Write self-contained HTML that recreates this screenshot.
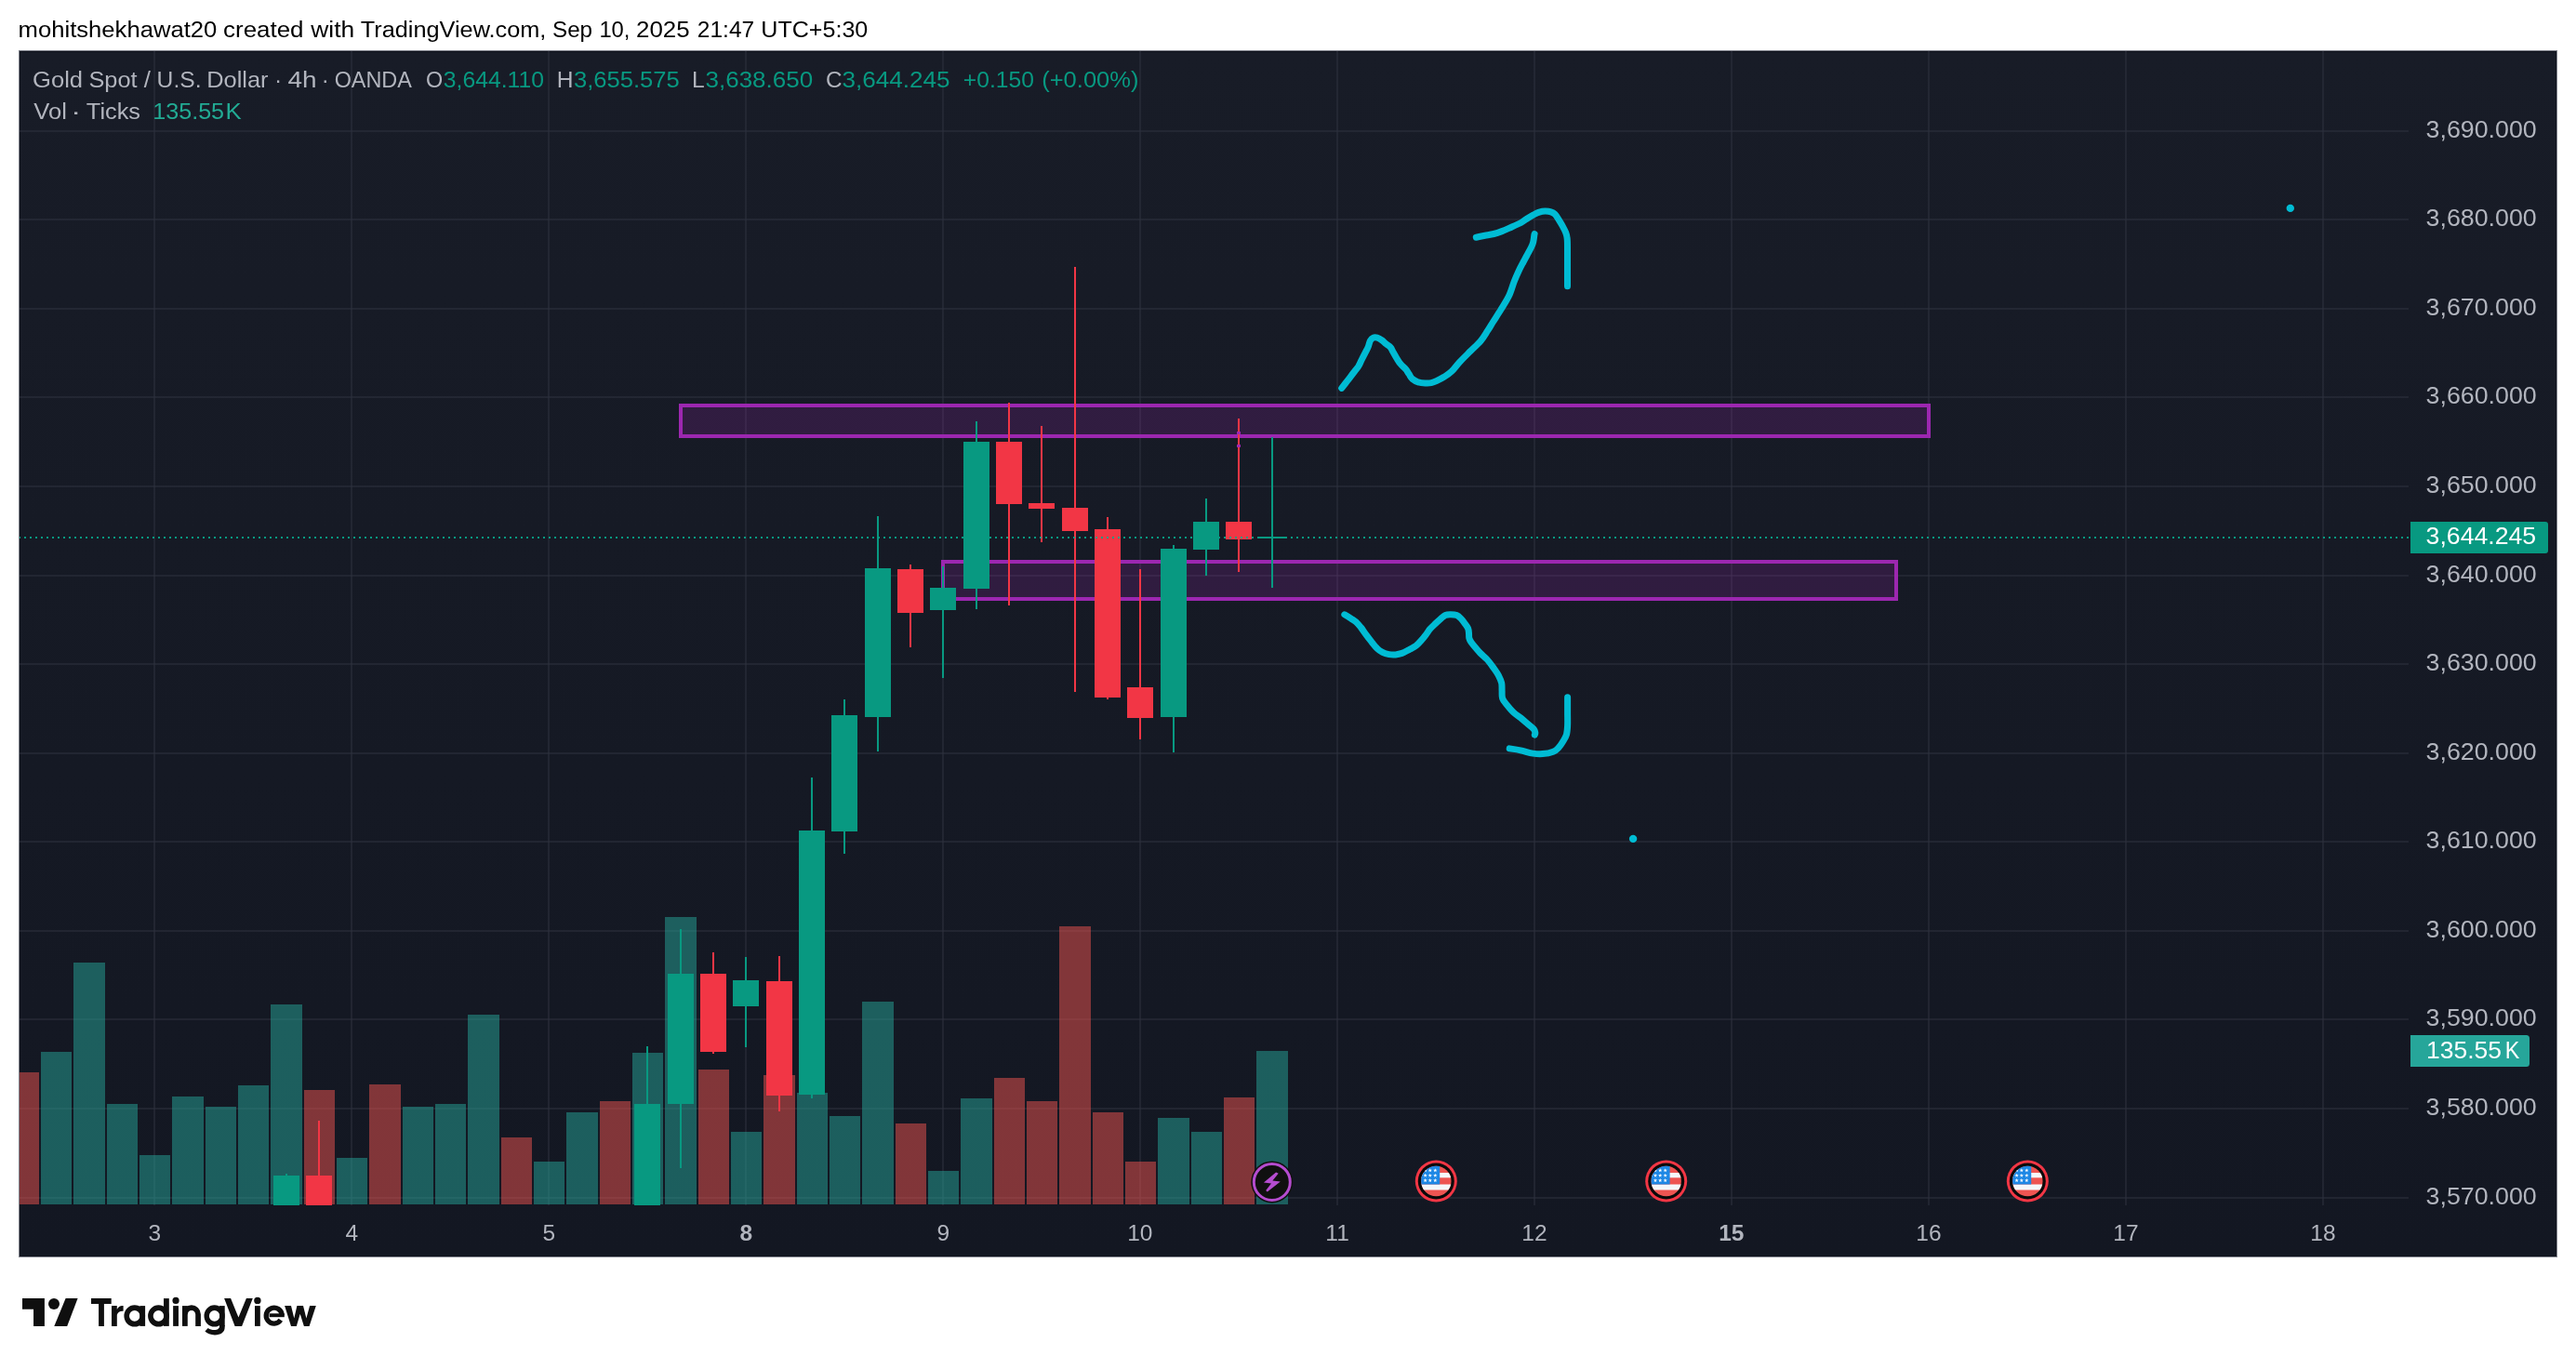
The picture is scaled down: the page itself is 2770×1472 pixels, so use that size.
<!DOCTYPE html>
<html><head><meta charset="utf-8"><style>
html,body{margin:0;padding:0;background:#fff;width:2770px;height:1472px;overflow:hidden}
svg{display:block;will-change:transform}
text{font-family:"Liberation Sans",sans-serif}
</style></head><body>
<svg width="2770" height="1472" viewBox="0 0 2770 1472">
<defs>
<linearGradient id="bg" x1="0" y1="0" x2="0" y2="1">
<stop offset="0" stop-color="#181c27"/><stop offset="1" stop-color="#131722"/>
</linearGradient>
<clipPath id="pane"><rect x="21" y="55" width="2569" height="1241"/></clipPath>
</defs>
<rect width="2770" height="1472" fill="#fff"/>

<rect x="20" y="54" width="2730" height="1298" fill="#80838c"/>
<rect x="21" y="55" width="2728" height="1296" fill="#0e111b"/>
<rect x="22" y="56" width="2726" height="1294" fill="url(#bg)"/>
<g clip-path="url(#pane)"><rect x="21" y="140" width="2569" height="2" fill="rgba(46,50,62,0.55)"/><rect x="21" y="235" width="2569" height="2" fill="rgba(46,50,62,0.55)"/><rect x="21" y="331" width="2569" height="2" fill="rgba(46,50,62,0.55)"/><rect x="21" y="426" width="2569" height="2" fill="rgba(46,50,62,0.55)"/><rect x="21" y="522" width="2569" height="2" fill="rgba(46,50,62,0.55)"/><rect x="21" y="618" width="2569" height="2" fill="rgba(46,50,62,0.55)"/><rect x="21" y="713" width="2569" height="2" fill="rgba(46,50,62,0.55)"/><rect x="21" y="809" width="2569" height="2" fill="rgba(46,50,62,0.55)"/><rect x="21" y="904" width="2569" height="2" fill="rgba(46,50,62,0.55)"/><rect x="21" y="1000" width="2569" height="2" fill="rgba(46,50,62,0.55)"/><rect x="21" y="1095" width="2569" height="2" fill="rgba(46,50,62,0.55)"/><rect x="21" y="1191" width="2569" height="2" fill="rgba(46,50,62,0.55)"/><rect x="21" y="1287" width="2569" height="2" fill="rgba(46,50,62,0.55)"/><rect x="165" y="55" width="2" height="1241" fill="rgba(46,50,62,0.55)"/><rect x="377" y="55" width="2" height="1241" fill="rgba(46,50,62,0.55)"/><rect x="589" y="55" width="2" height="1241" fill="rgba(46,50,62,0.55)"/><rect x="801" y="55" width="2" height="1241" fill="rgba(46,50,62,0.55)"/><rect x="1013" y="55" width="2" height="1241" fill="rgba(46,50,62,0.55)"/><rect x="1225" y="55" width="2" height="1241" fill="rgba(46,50,62,0.55)"/><rect x="1437" y="55" width="2" height="1241" fill="rgba(46,50,62,0.55)"/><rect x="1649" y="55" width="2" height="1241" fill="rgba(46,50,62,0.55)"/><rect x="1861" y="55" width="2" height="1241" fill="rgba(46,50,62,0.55)"/><rect x="2073" y="55" width="2" height="1241" fill="rgba(46,50,62,0.55)"/><rect x="2285" y="55" width="2" height="1241" fill="rgba(46,50,62,0.55)"/><rect x="2497" y="55" width="2" height="1241" fill="rgba(46,50,62,0.55)"/><rect x="9" y="1153" width="33" height="142" fill="rgba(239,83,80,0.5)"/><rect x="44" y="1131" width="33" height="164" fill="rgba(38,166,154,0.5)"/><rect x="79" y="1035" width="34" height="260" fill="rgba(38,166,154,0.5)"/><rect x="115" y="1187" width="33" height="108" fill="rgba(38,166,154,0.5)"/><rect x="150" y="1242" width="33" height="53" fill="rgba(38,166,154,0.5)"/><rect x="185" y="1179" width="34" height="116" fill="rgba(38,166,154,0.5)"/><rect x="221" y="1190" width="33" height="105" fill="rgba(38,166,154,0.5)"/><rect x="256" y="1167" width="33" height="128" fill="rgba(38,166,154,0.5)"/><rect x="291" y="1080" width="34" height="215" fill="rgba(38,166,154,0.5)"/><rect x="327" y="1172" width="33" height="123" fill="rgba(239,83,80,0.5)"/><rect x="362" y="1245" width="33" height="50" fill="rgba(38,166,154,0.5)"/><rect x="397" y="1166" width="34" height="129" fill="rgba(239,83,80,0.5)"/><rect x="433" y="1190" width="33" height="105" fill="rgba(38,166,154,0.5)"/><rect x="468" y="1187" width="33" height="108" fill="rgba(38,166,154,0.5)"/><rect x="503" y="1091" width="34" height="204" fill="rgba(38,166,154,0.5)"/><rect x="539" y="1223" width="33" height="72" fill="rgba(239,83,80,0.5)"/><rect x="574" y="1249" width="33" height="46" fill="rgba(38,166,154,0.5)"/><rect x="609" y="1196" width="34" height="99" fill="rgba(38,166,154,0.5)"/><rect x="645" y="1184" width="33" height="111" fill="rgba(239,83,80,0.5)"/><rect x="680" y="1132" width="33" height="163" fill="rgba(38,166,154,0.5)"/><rect x="715" y="986" width="34" height="309" fill="rgba(38,166,154,0.5)"/><rect x="751" y="1150" width="33" height="145" fill="rgba(239,83,80,0.5)"/><rect x="786" y="1217" width="33" height="78" fill="rgba(38,166,154,0.5)"/><rect x="821" y="1156" width="34" height="139" fill="rgba(239,83,80,0.5)"/><rect x="857" y="1175" width="33" height="120" fill="rgba(38,166,154,0.5)"/><rect x="892" y="1200" width="33" height="95" fill="rgba(38,166,154,0.5)"/><rect x="927" y="1077" width="34" height="218" fill="rgba(38,166,154,0.5)"/><rect x="963" y="1208" width="33" height="87" fill="rgba(239,83,80,0.5)"/><rect x="998" y="1259" width="33" height="36" fill="rgba(38,166,154,0.5)"/><rect x="1033" y="1181" width="34" height="114" fill="rgba(38,166,154,0.5)"/><rect x="1069" y="1159" width="33" height="136" fill="rgba(239,83,80,0.5)"/><rect x="1104" y="1184" width="33" height="111" fill="rgba(239,83,80,0.5)"/><rect x="1139" y="996" width="34" height="299" fill="rgba(239,83,80,0.5)"/><rect x="1175" y="1196" width="33" height="99" fill="rgba(239,83,80,0.5)"/><rect x="1210" y="1249" width="33" height="46" fill="rgba(239,83,80,0.5)"/><rect x="1245" y="1202" width="34" height="93" fill="rgba(38,166,154,0.5)"/><rect x="1281" y="1217" width="33" height="78" fill="rgba(38,166,154,0.5)"/><rect x="1316" y="1180" width="33" height="115" fill="rgba(239,83,80,0.5)"/><rect x="1351" y="1130" width="34" height="165" fill="rgba(38,166,154,0.5)"/><rect x="732" y="436" width="1342" height="33" fill="rgba(156,39,176,0.2)" stroke="#9c27b0" stroke-width="4"/><rect x="1014" y="604" width="1025" height="40" fill="rgba(156,39,176,0.2)" stroke="#9c27b0" stroke-width="4"/><rect x="307" y="1262" width="2" height="38" fill="#089981"/><rect x="294" y="1264" width="28" height="36" fill="#089981"/><rect x="342" y="1205" width="2" height="95" fill="#f23645"/><rect x="329" y="1264" width="28" height="36" fill="#f23645"/><rect x="695" y="1125" width="2" height="175" fill="#089981"/><rect x="682" y="1187" width="28" height="113" fill="#089981"/><rect x="731" y="999" width="2" height="257" fill="#089981"/><rect x="718" y="1047" width="28" height="140" fill="#089981"/><rect x="766" y="1024" width="2" height="109" fill="#f23645"/><rect x="753" y="1047" width="28" height="84" fill="#f23645"/><rect x="801" y="1029" width="2" height="97" fill="#089981"/><rect x="788" y="1054" width="28" height="28" fill="#089981"/><rect x="837" y="1028" width="2" height="167" fill="#f23645"/><rect x="824" y="1055" width="28" height="123" fill="#f23645"/><rect x="872" y="836" width="2" height="345" fill="#089981"/><rect x="859" y="893" width="28" height="284" fill="#089981"/><rect x="907" y="752" width="2" height="166" fill="#089981"/><rect x="894" y="769" width="28" height="125" fill="#089981"/><rect x="943" y="555" width="2" height="253" fill="#089981"/><rect x="930" y="611" width="28" height="160" fill="#089981"/><rect x="978" y="607" width="2" height="89" fill="#f23645"/><rect x="965" y="612" width="28" height="47" fill="#f23645"/><rect x="1013" y="609" width="2" height="120" fill="#089981"/><rect x="1000" y="632" width="28" height="24" fill="#089981"/><rect x="1049" y="453" width="2" height="202" fill="#089981"/><rect x="1036" y="475" width="28" height="158" fill="#089981"/><rect x="1084" y="433" width="2" height="218" fill="#f23645"/><rect x="1071" y="475" width="28" height="67" fill="#f23645"/><rect x="1119" y="458" width="2" height="125" fill="#f23645"/><rect x="1106" y="541" width="28" height="6" fill="#f23645"/><rect x="1155" y="287" width="2" height="457" fill="#f23645"/><rect x="1142" y="546" width="28" height="25" fill="#f23645"/><rect x="1190" y="556" width="2" height="196" fill="#f23645"/><rect x="1177" y="569" width="28" height="181" fill="#f23645"/><rect x="1225" y="612" width="2" height="183" fill="#f23645"/><rect x="1212" y="739" width="28" height="33" fill="#f23645"/><rect x="1261" y="586" width="2" height="223" fill="#089981"/><rect x="1248" y="590" width="28" height="181" fill="#089981"/><rect x="1296" y="536" width="2" height="83" fill="#089981"/><rect x="1283" y="561" width="28" height="30" fill="#089981"/><rect x="1331" y="450" width="2" height="165" fill="#f23645"/><rect x="1318" y="561" width="28" height="19" fill="#f23645"/><rect x="1367" y="470" width="2" height="162" fill="#089981"/><rect x="1354" y="577" width="28" height="2" fill="#089981"/><rect x="1330" y="464" width="4" height="3" fill="#9c27b0"/><rect x="1330" y="478" width="4" height="3" fill="#9c27b0"/><line x1="20" y1="578" x2="2590" y2="578" stroke="#089981" stroke-width="2" stroke-dasharray="2 4"/><path d="M1442.7,417.4 C1443.7,416.1 1446.6,412.4 1448.7,409.7 C1450.8,407.0 1453.3,403.6 1455.3,401.0 C1457.3,398.4 1459.3,396.1 1460.8,393.8 C1462.2,391.5 1462.8,389.7 1464.0,387.3 C1465.2,384.9 1466.7,382.0 1467.9,379.6 C1469.1,377.2 1470.3,375.2 1471.2,373.0 C1472.1,370.8 1472.5,368.0 1473.4,366.4 C1474.3,364.8 1475.3,363.7 1476.6,363.2 C1477.9,362.7 1479.4,362.8 1481.0,363.2 C1482.6,363.6 1484.5,364.8 1486.0,365.9 C1487.5,367.0 1488.8,368.4 1490.3,369.7 C1491.8,371.0 1494.0,372.1 1495.3,373.6 C1496.6,375.1 1496.9,376.6 1498.0,378.5 C1499.1,380.4 1500.4,382.9 1501.8,385.1 C1503.2,387.3 1504.5,389.6 1506.2,391.6 C1507.9,393.6 1510.2,395.4 1511.7,397.1 C1513.2,398.9 1513.8,400.4 1515.0,402.1 C1516.2,403.8 1517.1,406.1 1518.8,407.5 C1520.5,408.9 1522.6,410.1 1524.9,410.8 C1527.2,411.5 1530.1,411.8 1532.5,411.9 C1534.9,412.0 1537.1,412.0 1539.1,411.6 C1541.1,411.2 1542.3,410.8 1544.6,409.7 C1546.9,408.6 1550.1,407.0 1552.8,405.3 C1555.5,403.6 1558.2,402.0 1561.0,399.3 C1563.8,396.6 1566.1,393.1 1569.5,389.4 C1572.9,385.7 1577.7,381.1 1581.5,377.3 C1585.3,373.5 1589.3,370.1 1592.3,366.5 C1595.3,362.9 1597.4,359.1 1599.6,355.7 C1601.8,352.3 1603.2,349.8 1605.6,346.0 C1608.0,342.2 1611.2,337.4 1614.0,332.8 C1616.8,328.2 1620.1,323.3 1622.5,318.3 C1624.9,313.3 1626.5,307.0 1628.2,302.7 C1629.9,298.4 1631.1,295.6 1632.6,292.4 C1634.1,289.2 1635.4,286.7 1637.0,283.7 C1638.6,280.7 1640.5,277.1 1642.1,274.2 C1643.7,271.3 1645.4,268.4 1646.5,266.1 C1647.6,263.8 1648.2,262.5 1648.7,260.3 C1649.2,258.1 1649.6,254.5 1649.8,253.0 C1650.0,251.5 1650.0,251.8 1650.1,251.5" fill="none" stroke="#00bcd4" stroke-width="7" stroke-linecap="round" stroke-linejoin="round"/><path d="M1587.3,255.2 C1588.9,254.9 1593.6,253.9 1596.8,253.3 C1600.0,252.7 1603.2,252.3 1606.3,251.5 C1609.3,250.7 1611.9,249.8 1615.1,248.6 C1618.3,247.4 1621.9,245.7 1625.3,244.2 C1628.7,242.7 1632.8,240.9 1635.5,239.5 C1638.2,238.1 1639.2,236.9 1641.4,235.5 C1643.6,234.1 1646.4,232.3 1648.7,231.1 C1651.0,229.9 1653.0,228.8 1655.2,228.1 C1657.4,227.4 1659.7,227.1 1661.8,227.1 C1663.9,227.1 1666.0,227.3 1667.7,227.8 C1669.4,228.3 1670.7,229.0 1672.0,230.3 C1673.3,231.6 1674.4,233.4 1675.7,235.5 C1677.0,237.6 1678.8,240.4 1680.1,242.8 C1681.4,245.2 1682.8,247.8 1683.7,250.1 C1684.6,252.4 1684.9,253.9 1685.2,256.6 C1685.5,259.3 1685.5,262.1 1685.5,266.1 C1685.5,270.1 1685.5,275.8 1685.5,280.7 C1685.5,285.6 1685.5,290.9 1685.5,295.4 C1685.5,299.9 1685.5,305.7 1685.5,307.8" fill="none" stroke="#00bcd4" stroke-width="7" stroke-linecap="round" stroke-linejoin="round"/><path d="M1445.8,660.8 C1447.0,661.5 1450.7,663.7 1452.8,665.1 C1454.9,666.5 1456.8,667.6 1458.6,669.2 C1460.3,670.8 1461.5,672.3 1463.3,674.5 C1465.0,676.7 1467.2,680.0 1469.1,682.6 C1471.0,685.2 1473.0,687.8 1474.9,690.2 C1476.9,692.6 1478.8,695.4 1480.8,697.2 C1482.8,699.1 1484.5,700.2 1486.6,701.3 C1488.7,702.4 1491.3,703.2 1493.6,703.6 C1495.9,704.0 1498.3,704.1 1500.6,703.9 C1502.9,703.7 1505.1,703.3 1507.6,702.4 C1510.1,701.5 1513.2,699.6 1515.7,698.3 C1518.2,696.9 1520.6,695.9 1522.7,694.3 C1524.8,692.6 1526.8,690.3 1528.5,688.4 C1530.2,686.5 1531.7,684.6 1533.2,682.6 C1534.8,680.6 1536.0,678.2 1537.8,676.2 C1539.5,674.2 1541.8,672.2 1543.7,670.4 C1545.7,668.5 1547.8,666.6 1549.5,665.1 C1551.2,663.6 1552.5,662.1 1554.2,661.4 C1556.0,660.7 1558.0,660.8 1560.0,660.8 C1562.0,660.8 1564.6,660.9 1566.4,661.6 C1568.2,662.3 1569.5,663.6 1571.0,665.1 C1572.5,666.6 1573.8,668.6 1575.1,670.4 C1576.4,672.1 1577.9,673.9 1578.6,675.6 C1579.3,677.4 1579.3,679.1 1579.5,680.9 C1579.7,682.6 1579.4,684.5 1579.8,686.1 C1580.2,687.8 1580.9,689.0 1582.1,690.8 C1583.3,692.5 1585.1,694.6 1586.8,696.6 C1588.5,698.6 1590.0,700.4 1592.0,702.5 C1594.0,704.6 1596.7,706.5 1599.0,709.0 C1601.3,711.5 1603.5,714.6 1605.6,717.5 C1607.6,720.4 1609.8,723.2 1611.3,726.1 C1612.8,729.0 1614.1,731.8 1614.7,734.6 C1615.3,737.5 1614.9,740.5 1615.1,743.2 C1615.2,745.9 1614.8,748.4 1615.6,750.8 C1616.4,753.2 1617.9,754.9 1619.9,757.4 C1621.9,759.9 1625.0,763.6 1627.5,766.0 C1630.0,768.4 1632.6,769.7 1635.1,771.7 C1637.6,773.8 1640.3,776.2 1642.7,778.3 C1645.1,780.3 1648.0,782.4 1649.3,784.0 C1650.6,785.6 1650.6,786.8 1650.8,787.8 C1651.0,788.8 1650.4,789.8 1650.3,790.2" fill="none" stroke="#00bcd4" stroke-width="7" stroke-linecap="round" stroke-linejoin="round"/><path d="M1623.2,804.9 C1625.2,805.2 1630.9,805.9 1635.1,806.8 C1639.3,807.7 1644.5,809.5 1648.4,810.1 C1652.4,810.7 1655.2,810.9 1658.8,810.6 C1662.4,810.3 1667.3,809.3 1670.2,808.2 C1673.1,807.1 1674.2,805.8 1675.9,804.0 C1677.7,802.2 1679.3,799.7 1680.7,797.3 C1682.1,794.9 1683.7,792.6 1684.5,789.7 C1685.3,786.9 1685.4,784.2 1685.6,780.2 C1685.8,776.2 1685.6,771.1 1685.6,766.0 C1685.6,760.9 1685.6,752.5 1685.6,749.8" fill="none" stroke="#00bcd4" stroke-width="7" stroke-linecap="round" stroke-linejoin="round"/><circle cx="2462.8" cy="223.9" r="4.2" fill="#00bcd4"/><circle cx="1756.1" cy="901.9" r="4.2" fill="#00bcd4"/><g transform="translate(1544.3,1270)"><circle r="22.5" fill="#f23645"/><circle r="19.5" fill="#0a0a0a"/><clipPath id="fc1544"><circle r="16.2"/></clipPath><g clip-path="url(#fc1544)"><rect x="-17" y="-17" width="34" height="34" fill="#ee5451"/><rect x="-17" y="-9" width="34" height="5.3" fill="#f5f7fa"/><rect x="-17" y="3.5" width="34" height="6" fill="#f5f7fa"/><rect x="-17" y="-17" width="20.9" height="20.5" fill="#1e88e5"/><polygon points="-11.70,-13.85 -11.14,-12.37 -9.56,-12.30 -10.80,-11.31 -10.38,-9.78 -11.70,-10.65 -13.02,-9.78 -12.60,-11.31 -13.84,-12.30 -12.26,-12.37" fill="#fff"/><polygon points="-11.70,-8.35 -11.14,-6.87 -9.56,-6.80 -10.80,-5.81 -10.38,-4.28 -11.70,-5.15 -13.02,-4.28 -12.60,-5.81 -13.84,-6.80 -12.26,-6.87" fill="#fff"/><polygon points="-11.70,-3.05 -11.14,-1.57 -9.56,-1.50 -10.80,-0.51 -10.38,1.02 -11.70,0.15 -13.02,1.02 -12.60,-0.51 -13.84,-1.50 -12.26,-1.57" fill="#fff"/><polygon points="-6.50,-13.85 -5.94,-12.37 -4.36,-12.30 -5.60,-11.31 -5.18,-9.78 -6.50,-10.65 -7.82,-9.78 -7.40,-11.31 -8.64,-12.30 -7.06,-12.37" fill="#fff"/><polygon points="-6.50,-8.35 -5.94,-6.87 -4.36,-6.80 -5.60,-5.81 -5.18,-4.28 -6.50,-5.15 -7.82,-4.28 -7.40,-5.81 -8.64,-6.80 -7.06,-6.87" fill="#fff"/><polygon points="-6.50,-3.05 -5.94,-1.57 -4.36,-1.50 -5.60,-0.51 -5.18,1.02 -6.50,0.15 -7.82,1.02 -7.40,-0.51 -8.64,-1.50 -7.06,-1.57" fill="#fff"/><polygon points="-1.00,-13.85 -0.44,-12.37 1.14,-12.30 -0.10,-11.31 0.32,-9.78 -1.00,-10.65 -2.32,-9.78 -1.90,-11.31 -3.14,-12.30 -1.56,-12.37" fill="#fff"/><polygon points="-1.00,-8.35 -0.44,-6.87 1.14,-6.80 -0.10,-5.81 0.32,-4.28 -1.00,-5.15 -2.32,-4.28 -1.90,-5.81 -3.14,-6.80 -1.56,-6.87" fill="#fff"/><polygon points="-1.00,-3.05 -0.44,-1.57 1.14,-1.50 -0.10,-0.51 0.32,1.02 -1.00,0.15 -2.32,1.02 -1.90,-0.51 -3.14,-1.50 -1.56,-1.57" fill="#fff"/></g></g><g transform="translate(1791.7,1270)"><circle r="22.5" fill="#f23645"/><circle r="19.5" fill="#0a0a0a"/><clipPath id="fc1791"><circle r="16.2"/></clipPath><g clip-path="url(#fc1791)"><rect x="-17" y="-17" width="34" height="34" fill="#ee5451"/><rect x="-17" y="-9" width="34" height="5.3" fill="#f5f7fa"/><rect x="-17" y="3.5" width="34" height="6" fill="#f5f7fa"/><rect x="-17" y="-17" width="20.9" height="20.5" fill="#1e88e5"/><polygon points="-11.70,-13.85 -11.14,-12.37 -9.56,-12.30 -10.80,-11.31 -10.38,-9.78 -11.70,-10.65 -13.02,-9.78 -12.60,-11.31 -13.84,-12.30 -12.26,-12.37" fill="#fff"/><polygon points="-11.70,-8.35 -11.14,-6.87 -9.56,-6.80 -10.80,-5.81 -10.38,-4.28 -11.70,-5.15 -13.02,-4.28 -12.60,-5.81 -13.84,-6.80 -12.26,-6.87" fill="#fff"/><polygon points="-11.70,-3.05 -11.14,-1.57 -9.56,-1.50 -10.80,-0.51 -10.38,1.02 -11.70,0.15 -13.02,1.02 -12.60,-0.51 -13.84,-1.50 -12.26,-1.57" fill="#fff"/><polygon points="-6.50,-13.85 -5.94,-12.37 -4.36,-12.30 -5.60,-11.31 -5.18,-9.78 -6.50,-10.65 -7.82,-9.78 -7.40,-11.31 -8.64,-12.30 -7.06,-12.37" fill="#fff"/><polygon points="-6.50,-8.35 -5.94,-6.87 -4.36,-6.80 -5.60,-5.81 -5.18,-4.28 -6.50,-5.15 -7.82,-4.28 -7.40,-5.81 -8.64,-6.80 -7.06,-6.87" fill="#fff"/><polygon points="-6.50,-3.05 -5.94,-1.57 -4.36,-1.50 -5.60,-0.51 -5.18,1.02 -6.50,0.15 -7.82,1.02 -7.40,-0.51 -8.64,-1.50 -7.06,-1.57" fill="#fff"/><polygon points="-1.00,-13.85 -0.44,-12.37 1.14,-12.30 -0.10,-11.31 0.32,-9.78 -1.00,-10.65 -2.32,-9.78 -1.90,-11.31 -3.14,-12.30 -1.56,-12.37" fill="#fff"/><polygon points="-1.00,-8.35 -0.44,-6.87 1.14,-6.80 -0.10,-5.81 0.32,-4.28 -1.00,-5.15 -2.32,-4.28 -1.90,-5.81 -3.14,-6.80 -1.56,-6.87" fill="#fff"/><polygon points="-1.00,-3.05 -0.44,-1.57 1.14,-1.50 -0.10,-0.51 0.32,1.02 -1.00,0.15 -2.32,1.02 -1.90,-0.51 -3.14,-1.50 -1.56,-1.57" fill="#fff"/></g></g><g transform="translate(2180.3,1270)"><circle r="22.5" fill="#f23645"/><circle r="19.5" fill="#0a0a0a"/><clipPath id="fc2180"><circle r="16.2"/></clipPath><g clip-path="url(#fc2180)"><rect x="-17" y="-17" width="34" height="34" fill="#ee5451"/><rect x="-17" y="-9" width="34" height="5.3" fill="#f5f7fa"/><rect x="-17" y="3.5" width="34" height="6" fill="#f5f7fa"/><rect x="-17" y="-17" width="20.9" height="20.5" fill="#1e88e5"/><polygon points="-11.70,-13.85 -11.14,-12.37 -9.56,-12.30 -10.80,-11.31 -10.38,-9.78 -11.70,-10.65 -13.02,-9.78 -12.60,-11.31 -13.84,-12.30 -12.26,-12.37" fill="#fff"/><polygon points="-11.70,-8.35 -11.14,-6.87 -9.56,-6.80 -10.80,-5.81 -10.38,-4.28 -11.70,-5.15 -13.02,-4.28 -12.60,-5.81 -13.84,-6.80 -12.26,-6.87" fill="#fff"/><polygon points="-11.70,-3.05 -11.14,-1.57 -9.56,-1.50 -10.80,-0.51 -10.38,1.02 -11.70,0.15 -13.02,1.02 -12.60,-0.51 -13.84,-1.50 -12.26,-1.57" fill="#fff"/><polygon points="-6.50,-13.85 -5.94,-12.37 -4.36,-12.30 -5.60,-11.31 -5.18,-9.78 -6.50,-10.65 -7.82,-9.78 -7.40,-11.31 -8.64,-12.30 -7.06,-12.37" fill="#fff"/><polygon points="-6.50,-8.35 -5.94,-6.87 -4.36,-6.80 -5.60,-5.81 -5.18,-4.28 -6.50,-5.15 -7.82,-4.28 -7.40,-5.81 -8.64,-6.80 -7.06,-6.87" fill="#fff"/><polygon points="-6.50,-3.05 -5.94,-1.57 -4.36,-1.50 -5.60,-0.51 -5.18,1.02 -6.50,0.15 -7.82,1.02 -7.40,-0.51 -8.64,-1.50 -7.06,-1.57" fill="#fff"/><polygon points="-1.00,-13.85 -0.44,-12.37 1.14,-12.30 -0.10,-11.31 0.32,-9.78 -1.00,-10.65 -2.32,-9.78 -1.90,-11.31 -3.14,-12.30 -1.56,-12.37" fill="#fff"/><polygon points="-1.00,-8.35 -0.44,-6.87 1.14,-6.80 -0.10,-5.81 0.32,-4.28 -1.00,-5.15 -2.32,-4.28 -1.90,-5.81 -3.14,-6.80 -1.56,-6.87" fill="#fff"/><polygon points="-1.00,-3.05 -0.44,-1.57 1.14,-1.50 -0.10,-0.51 0.32,1.02 -1.00,0.15 -2.32,1.02 -1.90,-0.51 -3.14,-1.50 -1.56,-1.57" fill="#fff"/></g></g><g transform="translate(1367.8,1270.9)"><circle r="22.5" fill="#101010"/><circle r="19.5" fill="none" stroke="#b54ccf" stroke-width="3"/><path d="M4.27,-10.32 L6.9,-9.27 L0.59,-1.38 L9.01,-0.51 L-5.02,10.71 L-6.59,9.13 L-0.81,1.51 L-8.87,0.55 Z" fill="#b54ccf"/></g></g>
<path d="M2592,561 H2737 a3,3 0 0 1 3,3 V592 a3,3 0 0 1 -3,3 H2592 Z" fill="#089981"/>
<path d="M2592,1113 H2716.5 a3.5,3.5 0 0 1 3.5,3.5 V1143.5 a3.5,3.5 0 0 1 -3.5,3.5 H2592 Z" fill="#26a69a"/>
<text x="19.64" y="39.9" font-size="24.6" fill="#000000" textLength="213.63" lengthAdjust="spacingAndGlyphs">mohitshekhawat20</text>
<text x="240.05" y="39.9" font-size="24.6" fill="#000000" textLength="86.47" lengthAdjust="spacingAndGlyphs">created</text>
<text x="334.30" y="39.9" font-size="24.6" fill="#000000" textLength="46.91" lengthAdjust="spacingAndGlyphs">with</text>
<text x="387.79" y="39.9" font-size="24.6" fill="#000000" textLength="199.58" lengthAdjust="spacingAndGlyphs">TradingView.com,</text>
<text x="593.97" y="39.9" font-size="24.6" fill="#000000" textLength="43.13" lengthAdjust="spacingAndGlyphs">Sep</text>
<text x="644.41" y="39.9" font-size="24.6" fill="#000000" textLength="33.02" lengthAdjust="spacingAndGlyphs">10,</text>
<text x="683.98" y="39.9" font-size="24.6" fill="#000000" textLength="57.64" lengthAdjust="spacingAndGlyphs">2025</text>
<text x="749.86" y="39.9" font-size="24.6" fill="#000000" textLength="61.29" lengthAdjust="spacingAndGlyphs">21:47</text>
<text x="818.32" y="39.9" font-size="24.6" fill="#000000" textLength="114.98" lengthAdjust="spacingAndGlyphs">UTC+5:30</text>
<text x="35.08" y="93.9" font-size="24.2" fill="#b2b5be" textLength="54.01" lengthAdjust="spacingAndGlyphs">Gold</text>
<text x="95.45" y="93.9" font-size="24.2" fill="#b2b5be" textLength="52.16" lengthAdjust="spacingAndGlyphs">Spot</text>
<text x="154.80" y="93.9" font-size="24.2" fill="#b2b5be" textLength="7.18" lengthAdjust="spacingAndGlyphs">/</text>
<text x="168.62" y="93.9" font-size="24.2" fill="#b2b5be" textLength="47.97" lengthAdjust="spacingAndGlyphs">U.S.</text>
<text x="222.26" y="93.9" font-size="24.2" fill="#b2b5be" textLength="66.33" lengthAdjust="spacingAndGlyphs">Dollar</text>
<text x="295.36" y="93.9" font-size="24.2" fill="#b2b5be" textLength="7.74" lengthAdjust="spacingAndGlyphs">·</text>
<text x="309.42" y="93.9" font-size="24.2" fill="#b2b5be" textLength="31.10" lengthAdjust="spacingAndGlyphs">4h</text>
<text x="345.75" y="93.9" font-size="24.2" fill="#b2b5be" textLength="8.06" lengthAdjust="spacingAndGlyphs">·</text>
<text x="359.63" y="93.9" font-size="24.2" fill="#b2b5be" textLength="83.28" lengthAdjust="spacingAndGlyphs">OANDA</text>
<text x="457.93" y="93.9" font-size="24.2" fill="#b2b5be" textLength="18.21" lengthAdjust="spacingAndGlyphs">O</text>
<text x="476.88" y="93.9" font-size="24.2" fill="#089981" textLength="108.05" lengthAdjust="spacingAndGlyphs">3,644.110</text>
<text x="598.83" y="93.9" font-size="24.2" fill="#b2b5be" textLength="17.72" lengthAdjust="spacingAndGlyphs">H</text>
<text x="616.94" y="93.9" font-size="24.2" fill="#089981" textLength="113.77" lengthAdjust="spacingAndGlyphs">3,655.575</text>
<text x="744.12" y="93.9" font-size="24.2" fill="#b2b5be" textLength="13.70" lengthAdjust="spacingAndGlyphs">L</text>
<text x="758.53" y="93.9" font-size="24.2" fill="#089981" textLength="115.60" lengthAdjust="spacingAndGlyphs">3,638.650</text>
<text x="887.95" y="93.9" font-size="24.2" fill="#b2b5be" textLength="17.53" lengthAdjust="spacingAndGlyphs">C</text>
<text x="905.42" y="93.9" font-size="24.2" fill="#089981" textLength="116.11" lengthAdjust="spacingAndGlyphs">3,644.245</text>
<text x="1035.88" y="93.9" font-size="24.2" fill="#089981" textLength="76.04" lengthAdjust="spacingAndGlyphs">+0.150</text>
<text x="1120.22" y="93.9" font-size="24.2" fill="#089981" textLength="104.28" lengthAdjust="spacingAndGlyphs">(+0.00%)</text>
<text x="36.24" y="127.6" font-size="24.2" fill="#b2b5be" textLength="35.58" lengthAdjust="spacingAndGlyphs">Vol</text>
<text x="75.95" y="127.6" font-size="24.2" fill="#b2b5be" textLength="11.29" lengthAdjust="spacingAndGlyphs">·</text>
<text x="92.88" y="127.6" font-size="24.2" fill="#b2b5be" textLength="58.16" lengthAdjust="spacingAndGlyphs">Ticks</text>
<text x="164.18" y="127.6" font-size="24.2" fill="#22ab94" textLength="76.94" lengthAdjust="spacingAndGlyphs">135.55</text>
<text x="242.44" y="127.6" font-size="24.2" fill="#22ab94" textLength="17.18" lengthAdjust="spacingAndGlyphs">K</text>
<text x="2608.63" y="148.3" font-size="25" fill="#b2b5be" textLength="119.01" lengthAdjust="spacingAndGlyphs">3,690.000</text>
<text x="2608.63" y="243.3" font-size="25" fill="#b2b5be" textLength="119.01" lengthAdjust="spacingAndGlyphs">3,680.000</text>
<text x="2608.63" y="339.3" font-size="25" fill="#b2b5be" textLength="119.01" lengthAdjust="spacingAndGlyphs">3,670.000</text>
<text x="2608.63" y="434.3" font-size="25" fill="#b2b5be" textLength="119.01" lengthAdjust="spacingAndGlyphs">3,660.000</text>
<text x="2608.63" y="530.3" font-size="25" fill="#b2b5be" textLength="119.01" lengthAdjust="spacingAndGlyphs">3,650.000</text>
<text x="2608.63" y="626.3" font-size="25" fill="#b2b5be" textLength="119.01" lengthAdjust="spacingAndGlyphs">3,640.000</text>
<text x="2608.63" y="721.3" font-size="25" fill="#b2b5be" textLength="119.01" lengthAdjust="spacingAndGlyphs">3,630.000</text>
<text x="2608.63" y="817.3" font-size="25" fill="#b2b5be" textLength="119.01" lengthAdjust="spacingAndGlyphs">3,620.000</text>
<text x="2608.63" y="912.3" font-size="25" fill="#b2b5be" textLength="119.01" lengthAdjust="spacingAndGlyphs">3,610.000</text>
<text x="2608.63" y="1008.3" font-size="25" fill="#b2b5be" textLength="119.01" lengthAdjust="spacingAndGlyphs">3,600.000</text>
<text x="2608.63" y="1103.3" font-size="25" fill="#b2b5be" textLength="119.01" lengthAdjust="spacingAndGlyphs">3,590.000</text>
<text x="2608.63" y="1199.3" font-size="25" fill="#b2b5be" textLength="119.01" lengthAdjust="spacingAndGlyphs">3,580.000</text>
<text x="2608.63" y="1295.3" font-size="25" fill="#b2b5be" textLength="119.01" lengthAdjust="spacingAndGlyphs">3,570.000</text>
<text x="2608.63" y="585.2" font-size="25" fill="#ffffff" textLength="118.50" lengthAdjust="spacingAndGlyphs">3,644.245</text>
<text x="2609.05" y="1138.1" font-size="25" fill="#ffffff" textLength="80.98" lengthAdjust="spacingAndGlyphs">135.55</text>
<text x="2693.83" y="1138.1" font-size="25" fill="#ffffff" textLength="15.58" lengthAdjust="spacingAndGlyphs">K</text>
<text x="159.58" y="1334.4" font-size="24.5" fill="#b2b5be">3</text>
<text x="371.58" y="1334.4" font-size="24.5" fill="#b2b5be">4</text>
<text x="583.46" y="1334.4" font-size="24.5" fill="#b2b5be">5</text>
<text x="795.46" y="1334.4" font-size="24.5" fill="#b2b5be" font-weight="bold">8</text>
<text x="1007.58" y="1334.4" font-size="24.5" fill="#b2b5be">9</text>
<text x="1212.21" y="1334.4" font-size="24.5" fill="#b2b5be">10</text>
<text x="1425.33" y="1334.4" font-size="24.5" fill="#b2b5be">11</text>
<text x="1636.33" y="1334.4" font-size="24.5" fill="#b2b5be">12</text>
<text x="1848.21" y="1334.4" font-size="24.5" fill="#b2b5be" font-weight="bold">15</text>
<text x="2060.33" y="1334.4" font-size="24.5" fill="#b2b5be">16</text>
<text x="2272.33" y="1334.4" font-size="24.5" fill="#b2b5be">17</text>
<text x="2484.33" y="1334.4" font-size="24.5" fill="#b2b5be">18</text>
<g fill="#0f0f0f"><path d="M24,1396 H47.9 V1425.9 H36.05 V1407.7 H24 Z"/><circle cx="58" cy="1401.9" r="6"/><path d="M70.6,1396 H83.6 L72.2,1425.9 H58.3 Z"/></g>
<g fill="#0f0f0f"><path d="M98,1396.1 H119.7 V1401.9 H111.9 V1425.9 H106.1 V1401.9 H98 Z"/><path d="M120,1404.1 H125.8 V1425.9 H120 Z M125.8,1407.9 Q127.6,1404.1 131.6,1404.1 H132.6 V1409.7 H131.6 Q127.2,1409.9 125.8,1413.7 Z"/><path fill-rule="evenodd" d="M133.4,1414.95 a11.35,11.6 0 1,0 22.7,0 a11.35,11.6 0 1,0 -22.7,0 Z M139.0,1414.95 a5.75,5.9 0 1,0 11.5,0 a5.75,5.9 0 1,0 -11.5,0 Z"/><rect x="150.3" y="1404.1" width="5.8" height="21.8"/><path fill-rule="evenodd" d="M159.1,1414.95 a11.35,11.6 0 1,0 22.7,0 a11.35,11.6 0 1,0 -22.7,0 Z M164.7,1414.95 a5.75,5.9 0 1,0 11.5,0 a5.75,5.9 0 1,0 -11.5,0 Z"/><rect x="176.0" y="1396.1" width="5.8" height="29.8"/><circle cx="189.05" cy="1398.45" r="3.6"/><rect x="186.15" y="1404.1" width="5.8" height="21.8"/><rect x="196" y="1404.1" width="5.75" height="21.8"/><path d="M196,1413.2 A9.95,9.95 0 0 1 215.9,1413.2 V1425.9 H210.2 V1413.2 A4.25,4.25 0 0 0 201.7,1413.2 Z"/><path fill-rule="evenodd" d="M219.5,1414.95 a11.1,11.6 0 1,0 22.2,0 a11.1,11.6 0 1,0 -22.2,0 Z M224.9,1414.95 a5.7,5.9 0 1,0 11.4,0 a5.7,5.9 0 1,0 -11.4,0 Z"/><rect x="236" y="1404.1" width="5.7" height="22"/><path d="M241.7,1425 V1427 C241.7,1432.5 237.5,1435.4 231,1435.4 C226.5,1435.4 222.6,1433.8 220.4,1431.5 L223.7,1427.9 C225.5,1429.3 228,1430 230.5,1430 C233.8,1430 236,1428.5 236,1426 V1425 Z"/><path d="M241.1,1396 H248.1 L256.45,1416.5 L264.9,1396 H271.8 L260.1,1425.9 H252.6 Z"/><circle cx="276.9" cy="1398.4" r="3.7"/><rect x="274" y="1404.1" width="5.8" height="21.8"/><path d="M303.2,1414.3 A8.5,8.5 0 1 0 301.8,1419.3" fill="none" stroke="#0f0f0f" stroke-width="5.3"/><rect x="289.6" y="1412.3" width="16.2" height="3.9"/><path d="M306.1,1404.1 H313 L316.3,1417.4 L319.4,1404.1 H326 L329.4,1417.4 L333.1,1404.1 H339.8 L332.6,1425.9 H326.9 L322.7,1412.8 L318.8,1425.9 H313 Z"/></g>
</svg></body></html>
